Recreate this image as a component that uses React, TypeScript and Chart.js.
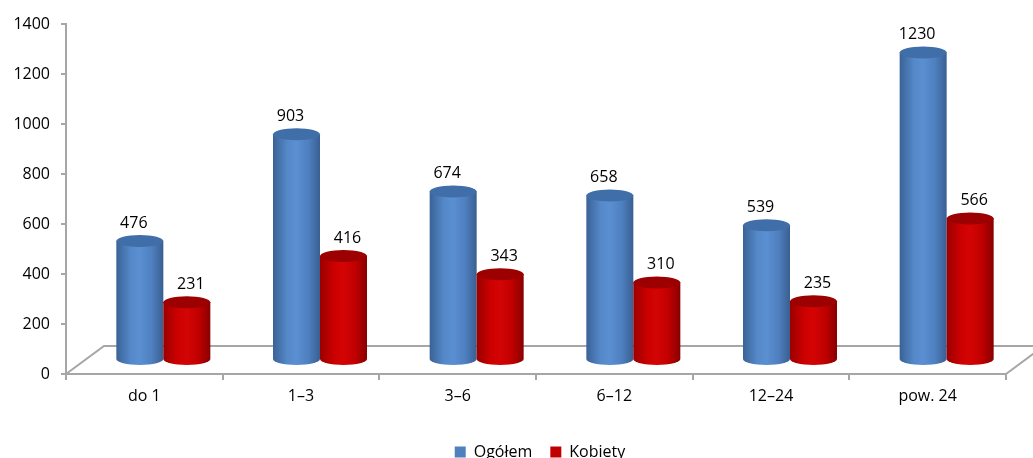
import React, { useEffect, useRef } from 'react';
import { Chart, registerables } from 'chart.js';

Chart.register(...registerables);

const categories = ['do 1', '1–3', '3–6', '6–12', '12–24', 'pow. 24'];
const ogolem = [476, 903, 674, 658, 539, 1230];
const kobiety = [231, 416, 343, 310, 235, 566];
const seriesNames = ['Ogółem', 'Kobiety'];
const yMin = 0;
const yMax = 1400;
const yStep = 200;

const FONT = "'Open Sans', sans-serif";
const FONT_SIZE = 16;
const AXIS_COLOR = '#a6a6a6';

const STYLES = [
  {
    legend: '#4f81bd',
    top: '#406ea8',
    stops: [
      [0, '#3a6296'],
      [0.3, '#5488c8'],
      [0.5, '#5a8fd2'],
      [0.75, '#4f80c0'],
      [1, '#395f92'],
    ],
    labelDx: -6,
  },
  {
    legend: '#c00000',
    top: '#9c0000',
    stops: [
      [0, '#9a0000'],
      [0.3, '#cc0000'],
      [0.5, '#d40404'],
      [0.75, '#c00000'],
      [1, '#880000'],
    ],
    labelDx: 4,
  },
];

const DEPTH_X = 38;
const DEPTH_Y = -28;
const RY = 6;
const LEGEND_SHIFT = 37;

const legendShiftPlugin = {
  id: 'legendShift',
  afterLayout(chart: any) {
    if (chart.legend) {
      chart.legend.left += LEGEND_SHIFT;
      chart.legend.right += LEGEND_SHIFT;
    }
  },
};

const cylinderPlugin = {
  id: 'cylinder3d',
  beforeDatasetsDraw(chart: any) {
    const { ctx, chartArea: a } = chart;
    ctx.save();
    // floor
    ctx.strokeStyle = AXIS_COLOR;
    ctx.lineWidth = 2;
    ctx.beginPath();
    ctx.moveTo(a.left, a.bottom);
    ctx.lineTo(a.left + DEPTH_X, a.bottom + DEPTH_Y);
    ctx.lineTo(a.right + DEPTH_X, a.bottom + DEPTH_Y);
    ctx.lineTo(a.right, a.bottom);
    ctx.stroke();

    const dx = DEPTH_X / 2;
    const dy = DEPTH_Y / 2;
    const labels: any[] = [];
    chart.data.datasets.forEach((ds: any, di: number) => {
      const meta = chart.getDatasetMeta(di);
      const st = STYLES[di];
      meta.data.forEach((el: any, i: number) => {
        const { x, y, base, width } = el.getProps(['x', 'y', 'base', 'width'], true);
        const cx = x + dx;
        const top = y + dy;
        const bot = base + dy;
        const rx = width / 2;
        const g = ctx.createLinearGradient(cx - rx, 0, cx + rx, 0);
        st.stops.forEach((s: any) => g.addColorStop(s[0], s[1]));
        ctx.fillStyle = g;
        ctx.beginPath();
        ctx.moveTo(cx - rx, top);
        ctx.lineTo(cx - rx, bot);
        ctx.ellipse(cx, bot, rx, RY, 0, Math.PI, 0, true);
        ctx.lineTo(cx + rx, top);
        ctx.closePath();
        ctx.fill();
        ctx.fillStyle = st.top;
        ctx.beginPath();
        ctx.ellipse(cx, top, rx, RY, 0, 0, Math.PI * 2);
        ctx.fill();
        labels.push({ x: cx + st.labelDx, y: top - 18, text: String(ds.data[i]) });
      });
    });
    ctx.fillStyle = '#000';
    ctx.font = `${FONT_SIZE}px ${FONT}`;
    ctx.textAlign = 'center';
    ctx.textBaseline = 'middle';
    labels.forEach((l) => ctx.fillText(l.text, l.x, l.y));
    ctx.restore();
    return false;
  },
};

export default function App() {
  const ref = useRef<HTMLCanvasElement>(null);
  useEffect(() => {
    document.body.style.margin = '0';
    const chart = new Chart(ref.current as HTMLCanvasElement, {
      type: 'bar',
      data: {
        labels: categories,
        datasets: [
          { label: seriesNames[0], data: ogolem, backgroundColor: STYLES[0].legend, borderWidth: 0 },
          { label: seriesNames[1], data: kobiety, backgroundColor: STYLES[1].legend, borderWidth: 0 },
        ],
      },
      plugins: [cylinderPlugin, legendShiftPlugin],
      options: {
        animation: false,
        responsive: true,
        maintainAspectRatio: false,
        layout: { padding: { top: 24, right: 27, left: 0, bottom: -12 } },
        datasets: { bar: { categoryPercentage: 0.6, barPercentage: 1.0 } },
        plugins: {
          tooltip: { enabled: false },
          legend: {
            position: 'bottom',
            labels: {
              boxWidth: 11,
              boxHeight: 11,
              padding: 18,
              color: '#000',
              font: { family: FONT, size: FONT_SIZE },
            },
          },
        },
        scales: {
          x: {
            afterFit: (s: any) => {
              s.height = 52;
            },
            grid: {
              drawOnChartArea: false,
              drawTicks: true,
              tickLength: 6,
              color: AXIS_COLOR,
              lineWidth: 2,
            },
            border: { color: AXIS_COLOR, width: 2 },
            ticks: { color: '#000', padding: 7, font: { family: FONT, size: FONT_SIZE } },
          },
          y: {
            min: yMin,
            max: yMax,
            afterFit: (s: any) => {
              s.width = 66;
            },
            grid: {
              drawOnChartArea: false,
              drawTicks: true,
              tickLength: 5,
              color: AXIS_COLOR,
              lineWidth: 2,
            },
            border: { color: AXIS_COLOR, width: 2 },
            ticks: {
              stepSize: yStep,
              color: '#000',
              padding: 11,
              font: { family: FONT, size: FONT_SIZE },
              callback: (v: any) => String(v),
            },
          },
        },
      },
    } as any);
    return () => chart.destroy();
  }, []);
  return (
    <div style={{ width: 1033, height: 458, position: 'relative' }}>
      <canvas ref={ref} />
    </div>
  );
}
